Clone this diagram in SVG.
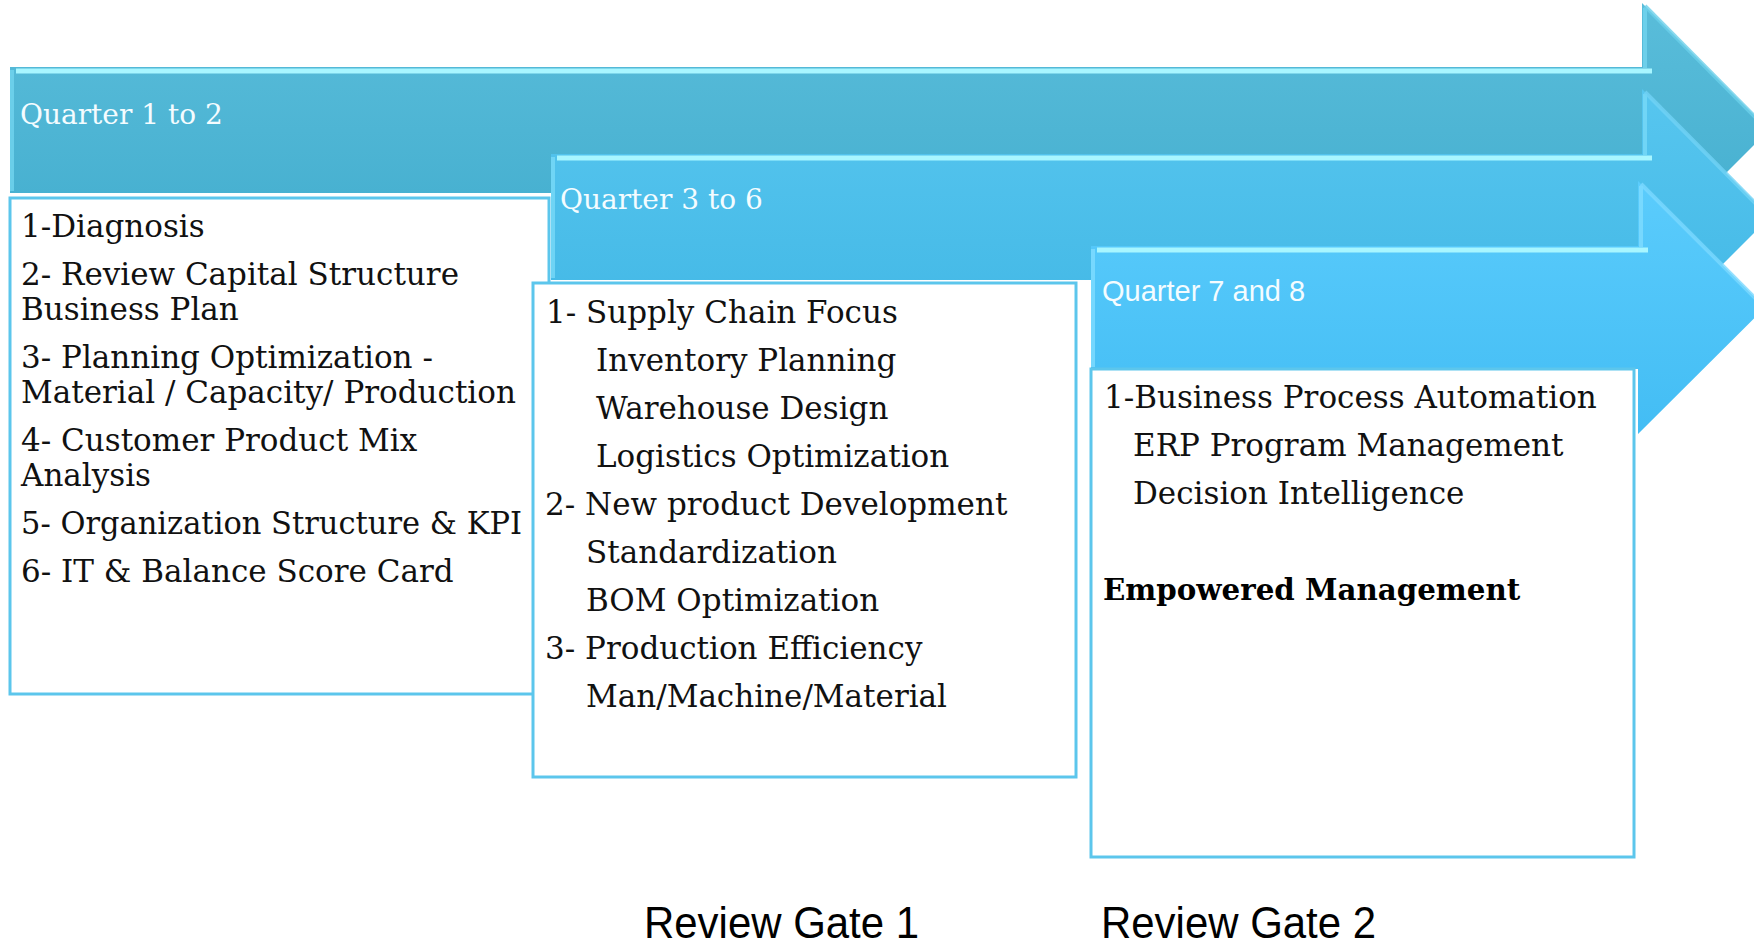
<svg xmlns="http://www.w3.org/2000/svg" width="1754" height="944" viewBox="0 0 1754 944">
<style>
.box{fill:#ffffff;stroke:#5cc6ec;stroke-width:3}
.t{font-family:"DejaVu Serif","Liberation Serif",serif;font-size:31px;fill:#111111}
.tb{font-family:"DejaVu Serif","Liberation Serif",serif;font-size:29.3px;font-weight:bold;fill:#000000}
.q{font-family:"DejaVu Serif","Liberation Serif",serif;font-size:28px;fill:#f4fcff}
.qs{font-family:"Liberation Sans","Open Sans",sans-serif;font-size:29px;fill:#f4fcff}
.gate{font-family:"Liberation Sans","Open Sans",sans-serif;font-size:44px;fill:#000000}
.hl{stroke:#a8f6ff;stroke-width:5;fill:none}
.bev{stroke-width:4;fill:none;opacity:0.8}
</style>
<defs>
<linearGradient id="g1" x1="0" y1="0" x2="0" y2="1"><stop offset="0" stop-color="#5abdda"/><stop offset="1" stop-color="#42adce"/></linearGradient>
<linearGradient id="g2" x1="0" y1="0" x2="0" y2="1"><stop offset="0" stop-color="#57c6ef"/><stop offset="1" stop-color="#41b7e5"/></linearGradient>
<linearGradient id="g3" x1="0" y1="0" x2="0" y2="1"><stop offset="0" stop-color="#5bccfc"/><stop offset="1" stop-color="#43bdf4"/></linearGradient>
</defs>
<rect width="1754" height="944" fill="#ffffff"/>

<g id="arrow1">
<path d="M10,67 L1642,67 L1642,3 L1769,130 L1642,257 L1642,193 L10,193 Z" fill="url(#g1)"/>
<line class="hl" x1="16" y1="71" x2="1652" y2="71"/>
<line class="bev" x1="12" y1="70" x2="12" y2="191" stroke="#72d4ef"/>
<line class="bev" x1="1645" y1="8" x2="1645" y2="68" stroke="#72d4ef"/>
<line class="bev" x1="1645" y1="6" x2="1767" y2="129" stroke="#6ccfea"/>
<text class="q" x="20" y="124">Quarter 1 to 2</text>
</g>

<g id="box1">
<rect class="box" x="10" y="198" width="539" height="496"/>
<text class="t" x="21" y="237">1-Diagnosis</text>
<text class="t" x="21" y="285">2- Review Capital Structure</text>
<text class="t" x="21" y="320">Business Plan</text>
<text class="t" x="21" y="368">3- Planning Optimization -</text>
<text class="t" x="21" y="403">Material / Capacity/ Production</text>
<text class="t" x="21" y="451">4- Customer Product Mix</text>
<text class="t" x="21" y="486">Analysis</text>
<text class="t" x="21" y="534" textLength="501" lengthAdjust="spacingAndGlyphs">5- Organization Structure &amp; KPI</text>
<text class="t" x="21" y="582">6- IT &amp; Balance Score Card</text>
</g>

<g id="arrow2">
<path d="M551,154 L1642,154 L1642,89 L1770,217 L1642,345 L1642,280 L551,280 Z" fill="url(#g2)"/>
<line class="hl" x1="557" y1="158" x2="1652" y2="158"/>
<line class="bev" x1="553" y1="157" x2="553" y2="278" stroke="#78d9f8"/>
<line class="bev" x1="1645" y1="94" x2="1645" y2="155" stroke="#78d9f8"/>
<line class="bev" x1="1645" y1="92" x2="1768" y2="216" stroke="#70d2f5"/>
<text class="q" x="560" y="209">Quarter 3 to 6</text>
</g>

<g id="box2">
<rect class="box" x="533" y="283" width="543" height="494"/>
<text class="t" x="546" y="323">1- Supply Chain Focus</text>
<text class="t" x="596" y="371">Inventory Planning</text>
<text class="t" x="596" y="419">Warehouse Design</text>
<text class="t" x="596" y="467">Logistics Optimization</text>
<text class="t" x="545" y="515">2- New product Development</text>
<text class="t" x="586" y="563">Standardization</text>
<text class="t" x="586" y="611">BOM Optimization</text>
<text class="t" x="545" y="659">3- Production Efficiency</text>
<text class="t" x="586" y="707">Man/Machine/Material</text>
</g>

<g id="arrow3">
<path d="M1091,246 L1638,246 L1638,181 L1765,307.5 L1638,434 L1638,369 L1091,369 Z" fill="url(#g3)"/>
<line class="hl" x1="1097" y1="250" x2="1648" y2="250"/>
<line class="bev" x1="1093" y1="249" x2="1093" y2="367" stroke="#7fdcff"/>
<line class="bev" x1="1641" y1="186" x2="1641" y2="247" stroke="#7fdcff"/>
<line class="bev" x1="1641" y1="184" x2="1763" y2="306" stroke="#7ad8ff"/>
<text class="qs" x="1102" y="301">Quarter 7 and 8</text>
</g>

<g id="box3">
<rect class="box" x="1091" y="369" width="543" height="488"/>
<text class="t" x="1104" y="408">1-Business Process Automation</text>
<text class="t" x="1133" y="456">ERP Program Management</text>
<text class="t" x="1133" y="504">Decision Intelligence</text>
<text class="tb" x="1103" y="600">Empowered Management</text>
</g>

<g id="gates">
<text class="gate" x="644" y="938" textLength="275" lengthAdjust="spacingAndGlyphs">Review Gate 1</text>
<text class="gate" x="1101" y="938" textLength="275" lengthAdjust="spacingAndGlyphs">Review Gate 2</text>
</g>
<g id="connectors"></g>
</svg>
